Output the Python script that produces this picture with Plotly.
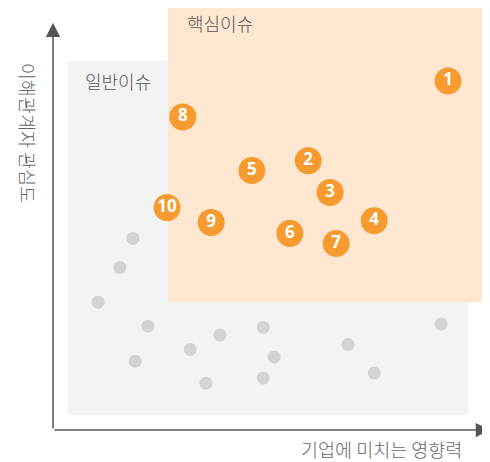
import plotly.graph_objects as go

# Core issues (numbered), x = impact on company, y = stakeholder concern (0-100 scale)
core_labels = ["1", "2", "3", "4", "5", "6", "7", "8", "9", "10"]
core_x = [90.4, 58.4, 63.4, 73.5, 45.5, 54.2, 64.8, 29.7, 36.2, 26.1]
core_y = [82.7, 63.8, 56.3, 49.6, 61.5, 46.6, 44.2, 74.2, 49.2, 52.7]

# General issues (unlabelled grey dots)
gen_x = [18.3, 15.3, 10.3, 21.7, 18.8, 31.4, 38.2, 35.0, 48.1, 50.6, 48.1, 67.5, 73.5, 88.8]
gen_y = [45.4, 38.5, 30.3, 24.6, 16.3, 19.1, 22.5, 11.1, 24.3, 17.3, 12.3, 20.3, 13.5, 25.1]

# Region boxes [x0, x1, y0, y1]
general_box = [3.4, 95.0, 3.5, 87.5]
core_box = [26.3, 100.0, 30.3, 100.0]

region_names = ["일반이슈", "핵심이슈"]
x_title = "기업에 미치는 영향력"
y_title = "이해관계자 관심도"

KR = "Noto Sans CJK KR"

fig = go.Figure()

fig.add_shape(type="rect", x0=general_box[0], x1=general_box[1], y0=general_box[2], y1=general_box[3],
              fillcolor="#F2F3F3", line=dict(width=0), layer="below")
fig.add_shape(type="rect", x0=core_box[0], x1=core_box[1], y0=core_box[2], y1=core_box[3],
              fillcolor="#FDE7D0", line=dict(width=0), layer="below")

fig.add_trace(go.Scatter(x=gen_x, y=gen_y, mode="markers",
                         marker=dict(size=13, color="#D2D3D5", line=dict(width=0)),
                         hoverinfo="skip", cliponaxis=False))
fig.add_trace(go.Scatter(x=core_x, y=core_y, mode="markers+text", text=core_labels,
                         textposition="middle center",
                         textfont=dict(family="Open Sans", size=17, color="white", weight="bold"),
                         marker=dict(size=27, color="#F59B30", line=dict(width=0)),
                         hoverinfo="skip", cliponaxis=False))

# Region labels
fig.add_annotation(x=general_box[0] + 3.4, y=general_box[3] - 4.8, text=region_names[0], showarrow=False,
                   xanchor="left", yanchor="middle",
                   font=dict(family=KR, size=18, color="#555555", weight=300))
fig.add_annotation(x=core_box[0] + 3.8, y=core_box[3] - 3.6, text=region_names[1], showarrow=False,
                   xanchor="left", yanchor="middle",
                   font=dict(family=KR, size=18, color="#555555", weight=300))

# Axis arrows
fig.add_annotation(x=0, y=96.5, ax=0, ay=0, xref="x", yref="y", axref="x", ayref="y",
                   text="", showarrow=True, arrowhead=2, arrowsize=1.9, arrowwidth=1.5, arrowcolor="#555555")
fig.add_annotation(x=100, y=0, ax=0, ay=0, xref="x", yref="y", axref="x", ayref="y",
                   text="", showarrow=True, arrowhead=2, arrowsize=1.9, arrowwidth=1.5, arrowcolor="#555555")

# Axis titles (paper coords, outside plot area)
fig.add_annotation(x=0.751, y=-0.045, xref="paper", yref="paper", text=x_title, showarrow=False,
                   xanchor="center", yanchor="middle",
                   font=dict(family=KR, size=18.5, color="#666666", weight=300))
fig.add_annotation(x=-0.057, y=0.704, xref="paper", yref="paper", text=y_title, showarrow=False,
                   textangle=90, xanchor="center", yanchor="middle",
                   font=dict(family=KR, size=18.5, color="#666666", weight=300))

fig.update_xaxes(range=[0, 100], visible=False, fixedrange=True)
fig.update_yaxes(range=[0, 100], visible=False, fixedrange=True)
fig.update_layout(width=490, height=462, margin=dict(l=45, r=8, t=0, b=40),
                  paper_bgcolor="white", plot_bgcolor="white", showlegend=False)

fig.write_html("out.html")
